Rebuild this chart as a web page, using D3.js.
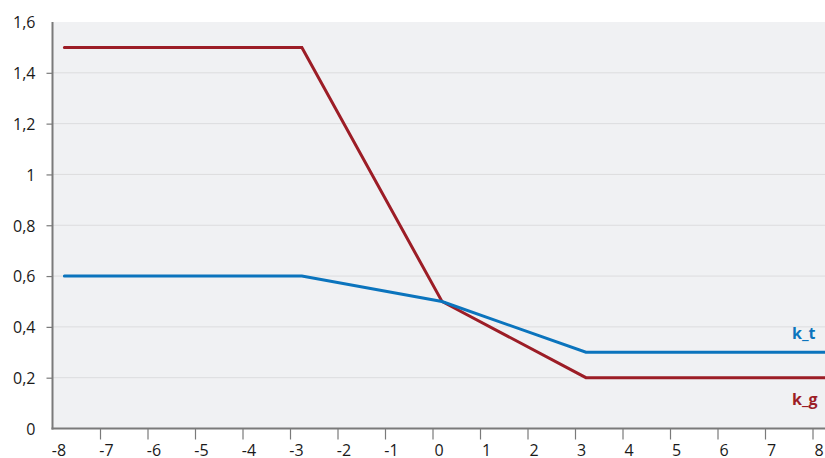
<!DOCTYPE html>
<html>
<head>
<meta charset="utf-8">
<script src="https://cdn.jsdelivr.net/npm/d3@7"></script>
<style>
  html, body { margin: 0; padding: 0; background: #ffffff; }
  svg { display: block; }
  text { font-family: "Open Sans", "Noto Sans", sans-serif; }
</style>
</head>
<body>
<svg id="chart" width="825" height="458"></svg>
<script>
// Coefficient curves k_g and k_t (piecewise linear)
const kgX = [-7.75, -2.75, 0.2, 3.23, 8.4];
const kgY = [1.5, 1.5, 0.5, 0.2, 0.2];
const ktX = [-7.75, -2.75, 0.2, 3.23, 8.4];
const ktY = [0.6, 0.6, 0.5, 0.3, 0.3];
const xTicks = [-8, -7, -6, -5, -4, -3, -2, -1, 0, 1, 2, 3, 4, 5, 6, 7, 8];
const yTicks = [0, 0.2, 0.4, 0.6, 0.8, 1, 1.2, 1.4, 1.6];
const seriesNames = ["k_t", "k_g"];

(function () {
  const svg = d3.select("#chart");
  const plotLeft = 52.5, plotRight = 825, plotTop = 22, plotBottom = 428.5;

  const x = d3.scaleLinear().domain([-8, 8]).range([plotLeft, 812.5]);
  const y = d3.scaleLinear().domain([0, 1.6]).range([plotBottom, plotTop]);
  const fmt = d => String(d).replace(".", ",");

  // plot background
  svg.append("rect")
    .attr("x", plotLeft).attr("y", plotTop)
    .attr("width", plotRight - plotLeft).attr("height", plotBottom - plotTop)
    .attr("fill", "#f0f1f3");

  svg.append("clipPath").attr("id", "plot")
    .append("rect").attr("x", plotLeft).attr("y", plotTop)
    .attr("width", plotRight - plotLeft).attr("height", plotBottom - plotTop);

  // horizontal gridlines
  svg.append("g").selectAll("line")
    .data(yTicks.filter(d => d > 0 && d < 1.6))
    .join("line")
    .attr("x1", plotLeft).attr("x2", plotRight)
    .attr("y1", d => y(d)).attr("y2", d => y(d))
    .attr("stroke", "#dcdcde").attr("stroke-width", 1);

  // y axis
  const yAxis = svg.append("g")
    .attr("transform", `translate(${plotLeft},0)`)
    .call(d3.axisLeft(y).tickValues(yTicks).tickFormat(fmt).tickSize(6).tickPadding(11));
  yAxis.select(".domain").remove();
  yAxis.selectAll(".tick line")
    .attr("stroke", "#7a7a7a").attr("stroke-width", 1.2)
    .attr("display", d => (d === 0 || d === 1.6) ? "none" : null);
  yAxis.selectAll(".tick text")
    .attr("font-size", 16).attr("fill", "#1a1a1a")
    .attr("dy", "0.36em");

  // x axis (labels sit slightly right of their ticks)
  const xAxis = svg.append("g")
    .attr("transform", `translate(0,${plotBottom})`)
    .call(d3.axisBottom(x).tickValues(xTicks).tickFormat(d => String(d)).tickSize(11).tickPadding(5));
  xAxis.select(".domain").remove();
  xAxis.selectAll(".tick line")
    .attr("stroke", "#7a7a7a").attr("stroke-width", 1.2)
    .attr("display", d => d === -8 ? "none" : null);
  xAxis.selectAll(".tick text")
    .attr("font-size", 16).attr("fill", "#1a1a1a")
    .attr("dx", 6);

  // axis lines
  svg.append("line")
    .attr("x1", plotLeft).attr("x2", plotLeft).attr("y1", plotTop).attr("y2", plotBottom + 1)
    .attr("stroke", "#7a7a7a").attr("stroke-width", 2);
  svg.append("line")
    .attr("x1", plotLeft - 1).attr("x2", plotRight).attr("y1", plotBottom).attr("y2", plotBottom)
    .attr("stroke", "#7a7a7a").attr("stroke-width", 2);

  // series lines
  const line = d3.line().x(d => x(d[0])).y(d => y(d[1]));
  const series = [
    { name: seriesNames[0], pts: d3.zip(ktX, ktY), color: "#0b74bd" },
    { name: seriesNames[1], pts: d3.zip(kgX, kgY), color: "#9c1d26" }
  ];
  svg.append("g").attr("clip-path", "url(#plot)")
    .selectAll("path")
    .data(series.slice().reverse())
    .join("path")
    .attr("d", d => line(d.pts))
    .attr("fill", "none")
    .attr("stroke", d => d.color)
    .attr("stroke-width", 3)
    .attr("stroke-linecap", "round")
    .attr("stroke-linejoin", "miter");

  // series labels
  const labelPos = { "k_t": 0.3, "k_g": 0.2 };
  const labelDy = { "k_t": -13.5, "k_g": 27 };
  svg.append("g").selectAll("text")
    .data(series)
    .join("text")
    .attr("x", 792)
    .attr("y", d => y(labelPos[d.name]) + labelDy[d.name])
    .attr("fill", d => d.color)
    .attr("font-size", 16)
    .attr("font-weight", "bold")
    .text(d => d.name);
})();
</script>
</body>
</html>
